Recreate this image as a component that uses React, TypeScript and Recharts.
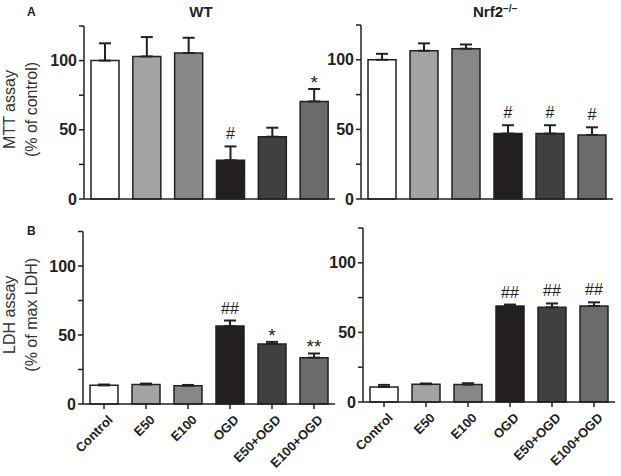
import React from "react";
import { BarChart, Bar, XAxis, YAxis, Cell, ErrorBar, LabelList } from "recharts";

const categories = ["Control", "E50", "E100", "OGD", "E50+OGD", "E100+OGD"];
const barColors = ["#ffffff", "#a3a3a3", "#878787", "#231f20", "#404040", "#6b6b6b"];
const yTicks = [0, 25, 50, 75, 100, 125];

// MTT assay (% of control)
const wtMtt = [100, 103, 105.5, 28, 45, 70.5];
const wtMttErr = [12.5, 14, 11, 10, 6.5, 9];
const wtMttMarks = ["", "", "", "#", "", "*"];
const koMtt = [100, 106.5, 108, 47, 47, 46];
const koMttErr = [4.3, 5.3, 3, 6, 6, 5.5];
const koMttMarks = ["", "", "", "#", "#", "#"];

// LDH assay (% of max LDH)
const wtLdh = [13.5, 14.2, 13.3, 56.5, 43.5, 33.6];
const wtLdhErr = [0.6, 0.6, 0.5, 4, 1.5, 3];
const wtLdhMarks = ["", "", "", "##", "*", "**"];
const koLdh = [10.8, 12.8, 12.5, 69, 68, 69];
const koLdhErr = [1.5, 0.5, 1, 1, 2.8, 2.6];
const koLdhMarks = ["", "", "", "##", "##", "##"];

const INK = "#222";
const FONT = "'Liberation Sans', Arial, sans-serif";

type PanelProps = {
  left: number;
  top: number;
  width: number;
  height: number;
  margin: { top: number; right: number; bottom: number; left: number };
  yWidth: number;
  xHeight: number;
  values: number[];
  errs: number[];
  marks: string[];
  showX: boolean;
  yLabel?: string[];
};

// rotated category label, its top-right corner sits just under the tick
const XTick = (props: any) => {
  const { x, y, payload } = props;
  const ax = x + 3;
  const ay = y + 3;
  return (
    <text
      x={ax}
      y={ay}
      dy="0.72em"
      transform={`rotate(-45 ${ax} ${ay})`}
      textAnchor="end"
      fontSize={13}
      fontWeight="bold"
      fill={INK}
      fontFamily={FONT}
    >
      {payload.value}
    </text>
  );
};

const Panel = (p: PanelProps) => {
  const data = categories.map((name, i) => ({
    name,
    value: p.values[i],
    err: [0, p.errs[i]],
    mark: p.marks[i],
  }));

  const renderMark = (lp: any) => {
    const { x, y, width, height, index, value } = lp;
    if (!value) return null;
    const perUnit = height / p.values[index];
    const errTop = y - p.errs[index] * perUnit;
    const star = String(value).includes("*");
    return (
      <text
        x={x + width / 2}
        y={star ? errTop : errTop - 7}
        textAnchor="middle"
        fontSize={star ? 19 : 16}
        fill={INK}
        fontFamily={FONT}
      >
        {value}
      </text>
    );
  };

  const renderYLabel = (lp: any) => {
    if (!p.yLabel) return null;
    const vb = lp.viewBox;
    const cy = vb.y + vb.height / 2 - 3;
    return (
      <g fontFamily={FONT} fontSize={16} fill="#333">
        <text x={15} y={cy} transform={`rotate(-90 15 ${cy})`} textAnchor="middle">
          {p.yLabel[0]}
        </text>
        <text x={37} y={cy} transform={`rotate(-90 37 ${cy})`} textAnchor="middle">
          {p.yLabel[1]}
        </text>
      </g>
    );
  };

  return (
    <div style={{ position: "absolute", left: p.left, top: p.top }}>
      <BarChart width={p.width} height={p.height} data={data} margin={p.margin}>
        <XAxis
          dataKey="name"
          height={p.xHeight}
          axisLine={{ stroke: INK, strokeWidth: 1.5 }}
          tickLine={p.showX ? { stroke: INK, strokeWidth: 1.5 } : false}
          tickSize={5}
          tick={p.showX ? <XTick /> : false}
          interval={0}
        />
        <YAxis
          width={p.yWidth}
          domain={[0, 125]}
          ticks={yTicks}
          interval={0}
          axisLine={{ stroke: INK, strokeWidth: 1.5 }}
          tickLine={{ stroke: INK, strokeWidth: 1.5 }}
          tickSize={5}
          tick={{ fill: INK, fontSize: 16, fontWeight: "bold", fontFamily: FONT }}
          tickFormatter={(v: number) => (v % 50 === 0 && v <= 100 ? String(v) : "")}
          label={p.yLabel ? { content: renderYLabel } : undefined}
        />
        <Bar dataKey="value" barSize={28} stroke={INK} strokeWidth={1.5} isAnimationActive={false}>
          {data.map((d, i) => (
            <Cell key={d.name} fill={barColors[i]} />
          ))}
          <ErrorBar dataKey="err" width={6} stroke={INK} strokeWidth={2} direction="y" />
          <LabelList dataKey="mark" content={renderMark} />
        </Bar>
      </BarChart>
    </div>
  );
};

export default function App() {
  return (
    <div
      style={{
        position: "absolute",
        left: 0,
        top: 0,
        width: 621,
        height: 476,
        background: "#fff",
        fontFamily: FONT,
        overflow: "hidden",
      }}
    >
      <Panel
        left={0}
        top={0}
        width={345}
        height={214}
        margin={{ top: 26, right: 10, bottom: 0, left: 0 }}
        yWidth={84}
        xHeight={15}
        values={wtMtt}
        errs={wtMttErr}
        marks={wtMttMarks}
        showX={false}
        yLabel={["MTT assay", "(% of control)"]}
      />
      <Panel
        left={300}
        top={0}
        width={321}
        height={214}
        margin={{ top: 25, right: 8, bottom: 0, left: 0 }}
        yWidth={61}
        xHeight={15}
        values={koMtt}
        errs={koMttErr}
        marks={koMttMarks}
        showX={false}
      />
      <Panel
        left={0}
        top={200}
        width={345}
        height={276}
        margin={{ top: 31.5, right: 10, bottom: 0, left: 0 }}
        yWidth={83}
        xHeight={72}
        values={wtLdh}
        errs={wtLdhErr}
        marks={wtLdhMarks}
        showX={true}
        yLabel={["LDH assay", "(% of max LDH)"]}
      />
      <Panel
        left={300}
        top={200}
        width={321}
        height={276}
        margin={{ top: 28, right: 6, bottom: 0, left: 0 }}
        yWidth={63}
        xHeight={74}
        values={koLdh}
        errs={koLdhErr}
        marks={koLdhMarks}
        showX={true}
      />
      <svg
        width={621}
        height={476}
        style={{ position: "absolute", left: 0, top: 0, pointerEvents: "none" }}
        fontFamily={FONT}
        fill={INK}
      >
        <text x={27} y={16} fontSize={12} fontWeight="bold">A</text>
        <text x={27} y={235} fontSize={12} fontWeight="bold">B</text>
        <text x={201} y={17} fontSize={15} fontWeight="bold" textAnchor="middle">WT</text>
        <text x={473} y={17} fontSize={15} fontWeight="bold">
          Nrf2
          <tspan fontSize={10} dy={-5}>−/−</tspan>
        </text>
      </svg>
    </div>
  );
}
